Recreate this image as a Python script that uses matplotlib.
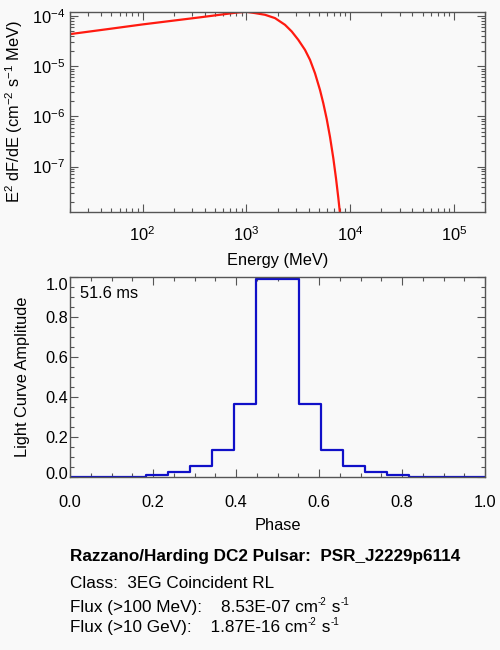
import matplotlib
matplotlib.use("Agg")
import matplotlib.pyplot as plt
import matplotlib.transforms as mtransforms
from matplotlib.ticker import (LogLocator, MultipleLocator, FixedLocator,
                               NullFormatter, FormatStrFormatter)

plt.rcParams['font.family'] = ['Liberation Sans', 'DejaVu Sans']
plt.rcParams['mathtext.fontset'] = 'custom'
plt.rcParams['mathtext.rm'] = 'Liberation Sans'
plt.rcParams['mathtext.it'] = 'Liberation Sans'
plt.rcParams['mathtext.bf'] = 'Liberation Sans:bold'

# ---- spectrum ----
energy_mev = [20, 50, 100, 355, 600, 807, 1000, 1213, 1515, 1891, 2362, 2741,
              3173, 3682, 4116, 4598, 5137, 5527, 5961, 6413, 6902, 7328,
              7714, 8008, 8185]
e2dfde = [4.37e-5, 5.62e-5, 6.82e-5, 9.42e-5, 1.084e-4, 1.175e-4, 1.216e-4,
          1.148e-4, 1.062e-4, 9.12e-5, 6.70e-5, 4.94e-5, 3.36e-5, 2.12e-5,
          1.34e-5, 7.24e-6, 3.36e-6, 1.828e-6, 8.91e-7, 3.90e-7, 1.469e-7,
          5.81e-8, 2.37e-8, 1.156e-8, 7.59e-9]

# ---- light curve ----
phase = [k / 19 for k in range(20)]
amplitude = [0.000, 0.001, 0.002, 0.004, 0.011, 0.028, 0.058, 0.138, 0.366, 0.99,
             0.99, 0.366, 0.138, 0.058, 0.028, 0.011, 0.004, 0.002, 0.001, 0.000]

period_text = "51.6 ms"
title_line = "Razzano/Harding DC2 Pulsar:  PSR_J2229p6114"
class_line = "Class:  3EG Coincident RL"
flux_labels = ["Flux (>100 MeV):    ", "Flux (>10 GeV):    "]
flux_values = ["8.53E-07", "1.87E-16"]

BG = '#f9f9f9'
AXC = '#555555'
fig = plt.figure(figsize=(5, 6.5), dpi=100, facecolor=BG)

W, H = 500.0, 650.0
def axes_px(l, t, r, b):
    return [l / W, 1 - b / H, (r - l) / W, (b - t) / H]

fs = 11.8

def style_axes(ax):
    ax.set_facecolor(BG)
    for s in ax.spines.values():
        s.set_color(AXC)
        s.set_linewidth(1.0)
    ax.tick_params(which='both', direction='in', top=True, right=True,
                   color=AXC, labelsize=fs, labelcolor='black', width=0.8)
    ax.tick_params(which='major', length=6)
    ax.tick_params(which='minor', length=3)

# top spectrum
ax1 = fig.add_axes(axes_px(70, 12.3, 485, 211.7))
style_axes(ax1)
ax1.plot(energy_mev, e2dfde, color='#ff1a10', lw=1.6)
ax1.set_xscale('log')
ax1.set_yscale('log')
ax1.set_xlim(20, 2e5)
ax1.set_ylim(1.26e-8, 1.19e-4)
ax1.xaxis.set_major_locator(FixedLocator([1e2, 1e3, 1e4, 1e5]))
ax1.yaxis.set_major_locator(FixedLocator([1e-7, 1e-6, 1e-5, 1e-4]))
ax1.xaxis.set_minor_locator(LogLocator(base=10, subs=range(2, 10), numticks=20))
ax1.yaxis.set_minor_locator(LogLocator(base=10, subs=range(2, 10), numticks=20))
ax1.xaxis.set_minor_formatter(NullFormatter())
ax1.yaxis.set_minor_formatter(NullFormatter())
ax1.tick_params(axis='x', which='major', pad=9.5)
ax1.tick_params(axis='y', which='major', pad=3.5)
ax1.set_xlabel('Energy (MeV)', fontsize=fs, labelpad=6.5)
ax1.set_ylabel('E$^2$ dF/dE (cm$^{-2}$ s$^{-1}$ MeV)', fontsize=fs, labelpad=5)

# bottom light curve
ax2 = fig.add_axes(axes_px(70, 277.3, 485, 477.3))
style_axes(ax2)
ax2.step(phase, amplitude, where='mid', color='#1010c8', lw=1.6)
ax2.set_xlim(0, 1)
ax2.set_ylim(0, 1.0)
ax2.xaxis.set_major_locator(MultipleLocator(0.2))
ax2.xaxis.set_minor_locator(MultipleLocator(0.05))
ax2.yaxis.set_major_locator(MultipleLocator(0.2))
ax2.yaxis.set_minor_locator(MultipleLocator(0.05))
ax2.xaxis.set_major_formatter(FormatStrFormatter('%.1f'))
ax2.yaxis.set_major_formatter(FormatStrFormatter('%.1f'))
ax2.tick_params(axis='x', which='major', pad=12.5)
ax2.tick_params(axis='y', which='major', pad=1.5)
ax2.set_xlabel('Phase', fontsize=fs, labelpad=6)
ax2.set_ylabel('Light Curve Amplitude', fontsize=fs, labelpad=11)
ax2.text(0.025, 0.955, period_text, transform=ax2.transAxes, fontsize=fs,
         ha='left', va='top')

# nudge edge y labels inward like the reference
fig.canvas.draw()
renderer = fig.canvas.get_renderer()
for lab in ax2.get_yticklabels():
    t = lab.get_text()
    if t == '1.0':
        lab.set_transform(lab.get_transform() + mtransforms.ScaledTranslation(0, -7 / 100, fig.dpi_scale_trans))
    elif t == '0.0':
        lab.set_transform(lab.get_transform() + mtransforms.ScaledTranslation(0, 4 / 100, fig.dpi_scale_trans))

# info text
ifs = 12.3
fig.text(70 / W, 1 - 556.7 / H, title_line, fontsize=ifs, ha='left',
         va='center', fontweight='bold')
fig.text(70 / W, 1 - 583.3 / H, class_line, fontsize=ifs, ha='left', va='center')

def rich_line(x_px, base_px, pieces):
    x = x_px
    for txt, sup in pieces:
        size = ifs * 0.58 if sup else ifs
        raise_px = 6.5 if sup else 0.0
        t = fig.text(x / W, 1 - (base_px - raise_px) / H, txt, fontsize=size,
                     ha='left', va='baseline')
        bb = t.get_window_extent(renderer)
        x = bb.x1 + (0.5 if sup else 0.0)

for lbl, val, base in zip(flux_labels, flux_values, [611.7, 631.7]):
    rich_line(70, base, [(lbl + val + " cm", False), ("-2", True),
                         (" s", False), ("-1", True)])

fig.savefig('out.png', dpi=100, facecolor=BG)
